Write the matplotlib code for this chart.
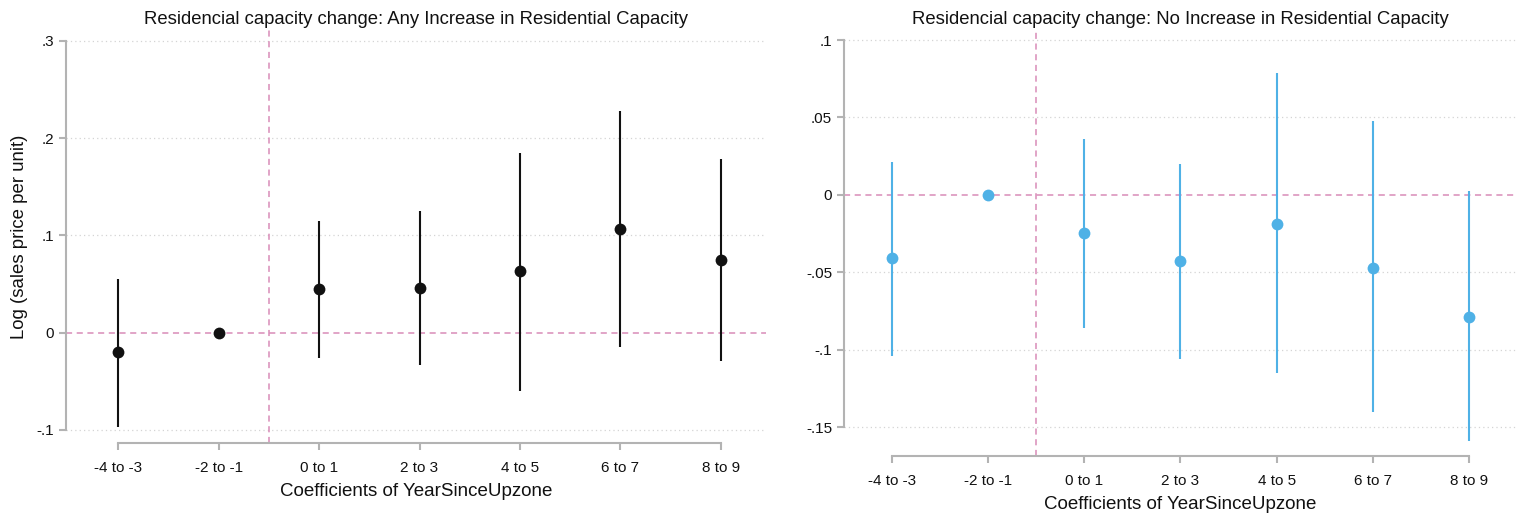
import matplotlib

matplotlib.use("Agg")

import matplotlib.pyplot as plt
import numpy as np

plt.rcParams.update({
    "font.family": ["Liberation Sans", "DejaVu Sans"],
    "figure.facecolor": "white",
    "savefig.facecolor": "white",
})

# event-study bins for years since upzoning
categories = ["-4 to -3", "-2 to -1", "0 to 1", "2 to 3", "4 to 5", "6 to 7", "8 to 9"]

# any increase in residential capacity
any_coef = [-0.020, 0.0, 0.045, 0.046, 0.063, 0.106, 0.075]
any_lo = [-0.097, 0.0, -0.026, -0.033, -0.060, -0.015, -0.029]
any_hi = [0.055, 0.0, 0.115, 0.125, 0.185, 0.228, 0.178]
any_ticks = [-0.1, 0.0, 0.1, 0.2, 0.3]
any_ticklabels = ["-.1", "0", ".1", ".2", ".3"]

# no increase in residential capacity
no_coef = [-0.041, 0.0, -0.0245, -0.043, -0.0187, -0.047, -0.079]
no_lo = [-0.104, 0.0, -0.086, -0.106, -0.115, -0.140, -0.159]
no_hi = [0.021, 0.0, 0.036, 0.020, 0.079, 0.048, 0.0026]
no_ticks = [-0.15, -0.1, -0.05, 0.0, 0.05, 0.1]
no_ticklabels = ["-.15", "-.1", "-.05", "0", ".05", ".1"]

PINK = "#d98cb8"
SPINE = "#b3b3b3"
GRID = "#d4d4d4"
BLACK = "#111111"
BLUE = "#4fb1e6"

W, H = 1518, 514
fig = plt.figure(figsize=(W / 100, H / 100), dpi=100)


def panel(rect_px, coef, lo, hi, ticks, ticklabels, ylim, xlim, color, title, ylabel=None):
    x0, x1, ytop, ybot = rect_px
    ax = fig.add_axes([x0 / W, 1 - ybot / H, (x1 - x0) / W, (ybot - ytop) / H])
    x = np.arange(len(categories))
    coef = np.asarray(coef)
    for xi, l, h in zip(x, lo, hi):
        if h != l:
            ax.plot([xi, xi], [l, h], color=color, lw=1.5, solid_capstyle="butt", zorder=3)
    ax.plot(x, coef, "o", color=color, ms=8.5, mec="none", zorder=4)

    ax.axhline(0, color=PINK, lw=1.1, ls=(0, (4, 3)), zorder=2)
    ax.axvline(1.5, color=PINK, lw=1.1, ls=(0, (4, 3)), zorder=2)
    for t in ticks:
        if t != 0:
            ax.axhline(t, color=GRID, lw=0.9, ls=(0, (1, 2.5)), zorder=1)

    ax.set_xlim(*xlim)
    ax.set_ylim(*ylim)
    ax.set_yticks(ticks)
    ax.set_yticklabels(ticklabels)
    ax.set_xticks(x)
    ax.set_xticklabels(categories)

    for s in ["top", "right"]:
        ax.spines[s].set_visible(False)
    ax.spines["left"].set_bounds(ticks[0], ticks[-1])
    ax.spines["bottom"].set_bounds(x[0], x[-1])
    for s in ["left", "bottom"]:
        ax.spines[s].set_color(SPINE)
        ax.spines[s].set_linewidth(1.5)
    ax.tick_params(axis="both", colors=SPINE, width=1.5, length=5,
                   labelcolor="#111111", labelsize=11)
    ax.tick_params(axis="x", pad=8)
    ax.set_title(title, fontsize=13.3, pad=4, color="#111111")
    ax.set_xlabel("Coefficients of YearSinceUpzone", fontsize=13.5, color="#111111", labelpad=6)
    if ylabel:
        ax.set_ylabel(ylabel, fontsize=13.4, color="#111111", labelpad=6)
    return ax


panel((66, 766, 30, 443), any_coef, any_lo, any_hi, any_ticks, any_ticklabels,
      (-0.1134, 0.311), (-0.52, 6.45), BLACK,
      "Residencial capacity change: Any Increase in Residential Capacity",
      ylabel="Log (sales price per unit)")
panel((844, 1516, 30, 456), no_coef, no_lo, no_hi, no_ticks, no_ticklabels,
      (-0.1687, 0.1065), (-0.5, 6.49), BLUE,
      "Residencial capacity change: No Increase in Residential Capacity")

fig.savefig("out.png", dpi=100)
